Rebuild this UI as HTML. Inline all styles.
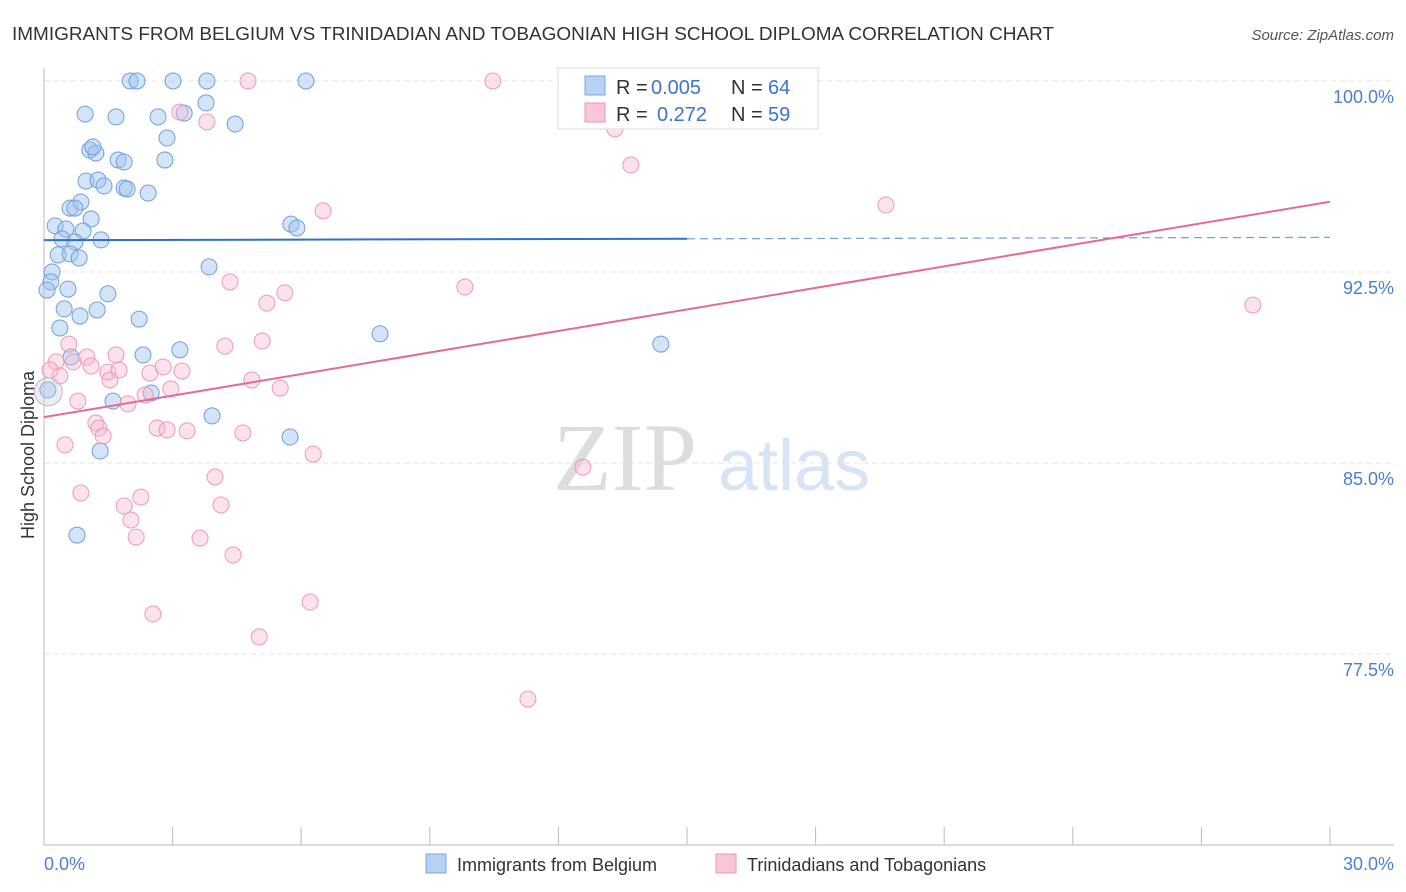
<!DOCTYPE html>
<html><head><meta charset="utf-8"><style>
body{margin:0;background:#fff;font-family:"Liberation Sans",sans-serif;}
svg{display:block}
</style></head><body>
<svg id="c" width="1406" height="892">
<text x="12" y="40" font-size="18" fill="#333" textLength="1042" lengthAdjust="spacingAndGlyphs">IMMIGRANTS FROM BELGIUM VS TRINIDADIAN AND TOBAGONIAN HIGH SCHOOL DIPLOMA CORRELATION CHART</text>
<text x="1394" y="40" font-size="15" fill="#555" font-style="italic" text-anchor="end">Source: ZipAtlas.com</text>
<g><text x="553" y="490" font-size="96" fill="#ddd" font-family="Liberation Serif,serif">ZIP</text><text x="718" y="490" font-size="72" fill="#d6e4f5">atlas</text></g>
<g id="grid"></g><g id="pts"></g><g id="lines"></g>
<text transform="translate(34,455) rotate(-90)" font-size="18" fill="#333" text-anchor="middle">High School Diploma</text>
<text x="44" y="870" font-size="18" fill="#4a7fd4">0.0%</text>
<text x="1394" y="870" font-size="18" fill="#4a7fd4" text-anchor="end">30.0%</text>
<g>
<rect x="558" y="68" width="260" height="61" fill="#fff" stroke="#ddd"/>
<rect x="585" y="76" width="20" height="19" fill="#b8d2f5" stroke="#7aa7e6"/>
<rect x="585" y="103" width="20" height="19" fill="#f9c6d6" stroke="#ee94b1"/>
<text x="616" y="94" font-size="20" fill="#333">R =</text>
<text x="651" y="94" font-size="20" fill="#3a74d0">0.005</text>
<text x="731" y="94" font-size="20" fill="#333">N =</text>
<text x="768" y="94" font-size="20" fill="#3a74d0">64</text>
<text x="616" y="121" font-size="20" fill="#333">R =</text>
<text x="657" y="121" font-size="20" fill="#3a74d0">0.272</text>
<text x="731" y="121" font-size="20" fill="#333">N =</text>
<text x="768" y="121" font-size="20" fill="#3a74d0">59</text>
</g>
<g>
<rect x="426" y="854" width="20" height="19" fill="#b8d2f5" stroke="#7aa7e6"/>
<text x="457" y="871" font-size="18" fill="#333">Immigrants from Belgium</text>
<rect x="716" y="854" width="20" height="19" fill="#f9c6d6" stroke="#ee94b1"/>
<text x="747" y="871" font-size="18" fill="#333">Trinidadians and Tobagonians</text>
</g>
</svg>
<script>
const yTicks=[100,92.5,85,77.5];
const yTickLabels=["100.0%","92.5%","85.0%","77.5%"];
const blueX=[2.01,2.17,3.01,3.80,6.11,0.96,1.68,2.66,3.27,3.78,4.46,2.87,1.07,1.21,1.14,1.73,1.87,2.82,0.98,1.26,1.40,1.87,1.94,2.43,0.61,0.86,0.72,1.10,0.26,0.51,0.91,0.42,0.72,1.33,5.76,5.90,0.33,0.61,0.82,0.19,0.16,0.07,0.56,1.49,3.85,0.47,1.24,0.84,2.22,0.37,7.84,0.63,2.31,3.17,14.39,0.09,2.50,1.61,3.92,5.74,1.31,0.77];
const blueY=[100,100,100,100,100,98.70,98.59,98.59,98.74,99.14,98.31,97.76,97.29,97.17,97.41,96.90,96.82,96.90,96.07,96.11,95.88,95.80,95.76,95.60,95.01,95.25,95.01,94.58,94.31,94.19,94.11,93.80,93.68,93.76,94.38,94.23,93.17,93.21,93.05,92.50,92.11,91.79,91.83,91.64,92.70,91.05,91.01,90.77,90.65,90.30,90.07,89.16,89.24,89.44,89.67,87.87,87.75,87.43,86.85,86.02,85.47,82.17];
const pinkX=[4.76,10.47,3.17,3.80,13.32,13.69,6.51,19.64,28.20,9.82,4.34,5.62,5.20,5.09,4.22,0.58,0.28,1.00,1.68,0.68,0.37,1.10,1.49,1.54,1.75,2.47,2.78,3.22,4.85,5.51,2.96,2.36,1.96,0.79,1.21,1.28,1.38,2.64,2.87,3.34,4.64,0.49,6.28,12.57,3.99,0.86,2.26,1.87,4.13,2.03,2.15,3.64,4.41,2.54,6.21,5.02,11.29,0.14];
const pinkY=[100,100,98.78,98.39,98.12,96.70,94.90,95.13,91.20,91.91,92.11,91.68,91.28,89.79,89.59,89.67,88.97,89.16,89.24,88.97,88.42,88.81,88.57,88.26,88.65,88.53,88.77,88.61,88.26,87.94,87.91,87.67,87.32,87.43,86.57,86.37,86.06,86.37,86.30,86.26,86.18,85.71,85.35,84.84,84.45,83.82,83.66,83.31,83.35,82.76,82.09,82.05,81.39,79.07,79.54,78.17,75.73,88.65];
const blueTrend=[93.75,93.86];
const pinkTrend=[86.8,95.26];
const NS="http://www.w3.org/2000/svg";
const sx=v=>44+v/30*1286, sy=v=>81+(100-v)/7.5*191;
function mk(t,a,p){const e=document.createElementNS(NS,t);for(const k in a)e.setAttribute(k,a[k]);p.appendChild(e);return e;}
const g=document.getElementById('grid');
yTicks.forEach((t,i)=>{
 const l=mk('line',{x1:44,x2:1394,y1:sy(t),y2:sy(t),stroke:'#e4e4e4','stroke-dasharray':'5,4'},g);
 
 
 const tx=mk('text',{x:1394,y:sy(t)+22,'font-size':18,fill:'#4a7fd4','text-anchor':'end'},g);
 tx.textContent=yTickLabels[i];
 
 
});
const ax=mk('line',{x1:44,x2:44,y1:68,y2:845,stroke:'#bbb'},g);


const bx=mk('line',{x1:44,x2:1394,y1:845,y2:845,stroke:'#bbb'},g);


for(let i=0;i<=10;i++){const x=sx(i*3);const t=mk('line',{x1:x,x2:x,y1:827,y2:845,stroke:'#bbb'},g);
 
 }
const P=document.getElementById('pts');
blueX.forEach((v,i)=>{const c=mk('circle',{cx:sx(v),cy:sy(blueY[i]),r:8,fill:'rgba(160,196,240,0.45)',stroke:'#6f9fdc','stroke-width':1},P);
 
 });
pinkX.forEach((v,i)=>{const c=mk('circle',{cx:sx(v),cy:sy(pinkY[i]),r:8,fill:'rgba(247,184,204,0.4)',stroke:'#eb9ab4','stroke-width':1},P);
 
 });
const big=mk('circle',{cx:sx(0.1),cy:sy(87.8),r:14,fill:'rgba(200,200,220,0.35)',stroke:'#c9b3c9'},P);


const L=document.getElementById('lines');
const bt=v=>blueTrend[0]+(blueTrend[1]-blueTrend[0])*v/30;
const b1=mk('line',{x1:sx(0),y1:sy(bt(0)),x2:sx(15),y2:sy(bt(15)),stroke:'#2f6fd0','stroke-width':2},L);


const b2=mk('line',{x1:sx(15),y1:sy(bt(15)),x2:sx(30),y2:sy(bt(30)),stroke:'#7aa3dc','stroke-width':1.3,'stroke-dasharray':'8,5'},L);


const p1=mk('line',{x1:sx(0),y1:sy(pinkTrend[0]),x2:sx(30),y2:sy(pinkTrend[1]),stroke:'#e56a98','stroke-width':2},L);


</script>
</body></html>
